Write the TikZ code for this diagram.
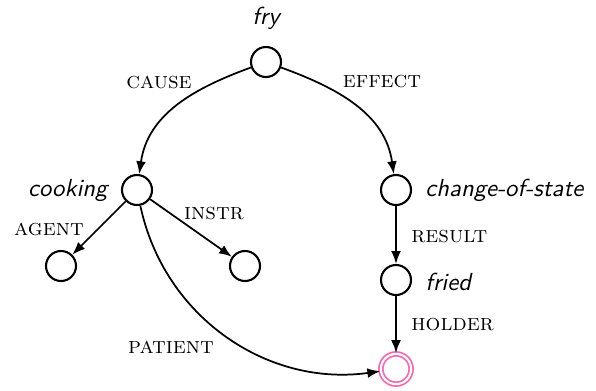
\documentclass[tikz,border=0pt]{standalone}
\usetikzlibrary{arrows.meta}
\definecolor{pinkc}{RGB}{245,105,175}
\begin{document}
\begin{tikzpicture}[x=0.43pt,y=-0.43pt,
  st/.style={circle,draw,line width=0.9pt,minimum size=12.9pt,inner sep=0pt},
  fin/.style={circle,draw=pinkc,double=white,double distance=0.9pt,line width=0.75pt,minimum size=13pt,inner sep=0pt},
  nl/.style={font=\fontsize{10.6}{12}\sffamily\itshape,inner sep=0pt},
  el/.style={font=\scshape,inner sep=0pt},
  arr/.style={-{Latex[length=5.5pt,width=4.2pt]},line width=0.75pt}]
\useasboundingbox (0,0) rectangle (596,391);
\node[st] (fry) at (266,62) {};
\node[st] (cooking) at (137,190) {};
\node[st] (cos) at (396,190) {};
\node[st] (agent) at (61,266) {};
\node[st] (instr) at (245,266) {};
\node[st] (fried) at (396,280) {};
\node[fin] (final) at (396,369) {};
\node[nl] (fryl) at (266,18) {fry};
\node[nl,anchor=east] (cookingl) at (108,190) {cooking};
\node[nl,anchor=west] (cosl) at (425,190) {change-of-state};
\node[nl,anchor=west] (friedl) at (425,282) {fried};
\node[el] (causel) at (159,82) {cause};
\node[el] (effectl) at (382,82) {effect};
\node[el] (agentl) at (49,229) {agent};
\node[el] (instrl) at (214,214) {instr};
\node[el,anchor=west] (resultl) at (411,237) {result};
\node[el,anchor=west] (holderl) at (411,325) {holder};
\node[el] (patientl) at (171,347) {patient};
\draw[arr] (fry) to[out=200,in=82] (cooking);
\draw[arr] (fry) to[out=-20,in=98] (cos);
\draw[arr] (cooking) -- (agent);
\draw[arr] (cooking) -- (instr);
\draw[arr] (cooking) to[out=-78,in=188] (final);
\draw[arr] (cos) -- (fried);
\draw[arr] (fried) -- (final);
\end{tikzpicture}
\end{document}
